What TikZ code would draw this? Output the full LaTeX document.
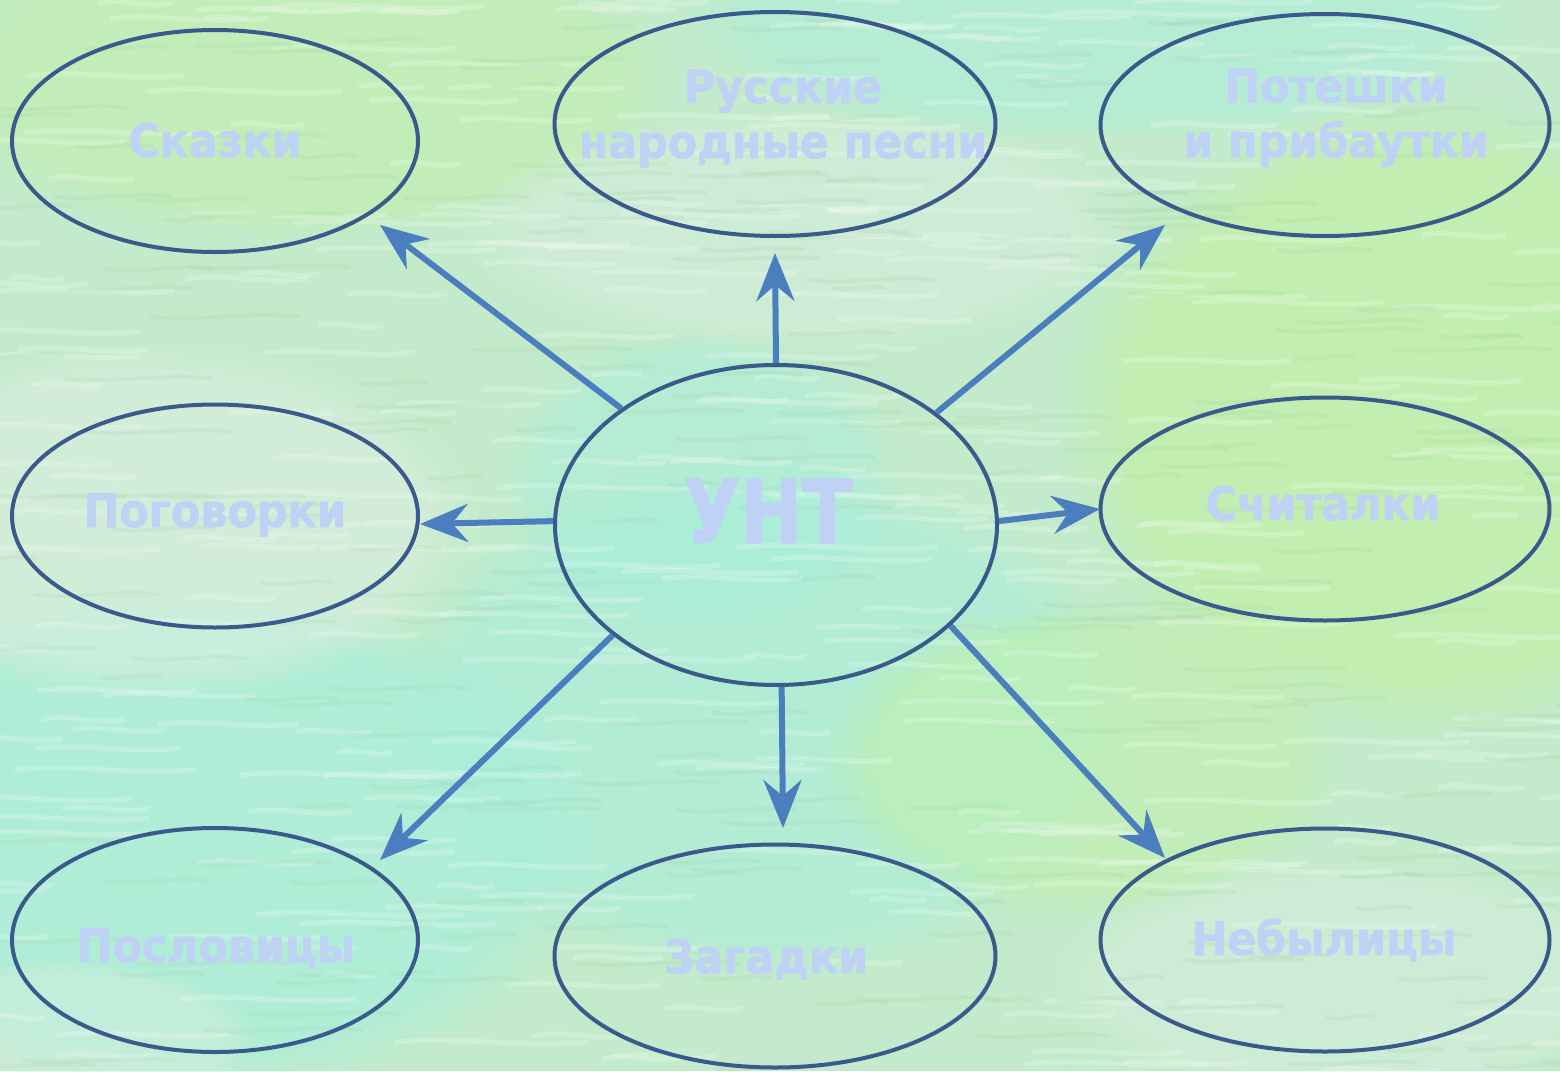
\documentclass[tikz,border=0pt]{standalone}
\usepackage{fontspec}
\newfontfamily\labelfont[FakeStretch=0.93,FakeBold=1.3]{DejaVu Sans Bold}
\newfontfamily\bigfont[FakeStretch=0.84,FakeBold=1.5]{DejaVu Sans Bold}
\usetikzlibrary{arrows.meta,shapes.geometric,fadings}
\definecolor{edgeblue}{HTML}{3B5A8C}
\definecolor{arrowblue}{HTML}{4A7EBE}
\definecolor{txtblue}{HTML}{BFD2F6}
\definecolor{bgbase}{HTML}{C3EBCB}
\definecolor{bgaqua}{HTML}{A8EEDC}
\definecolor{bglime}{HTML}{C2F0A6}
\definecolor{bgpale}{HTML}{E0EFE4}
\definecolor{bgstreak}{HTML}{9FCBA2}
\tikzset{
  oval/.style={ellipse, draw=edgeblue, line width=4pt, inner sep=0pt},
  lbl/.style={text=txtblue, font=\labelfont\fontsize{46}{55}\selectfont, align=center, inner sep=0pt},
  bigl/.style={text=txtblue, font=\bigfont\fontsize{88}{100}\selectfont, inner sep=0pt},
  link/.style={draw=arrowblue, line width=6pt, -{Stealth[length=48pt,width=38pt,inset=16pt]}},
  blob/.style={path fading=circle with fuzzy edge 20 percent}
}
\begin{document}
\begin{tikzpicture}[x=1pt,y=-1pt]
\useasboundingbox (0,0) rectangle (1560,1071);
% background texture
\fill[bgbase] (0,0) rectangle (1560,1071);
\begin{scope}
\clip (0,0) rectangle (1560,1071);
\fill[bgaqua, blob, opacity=0.7] (180,840) ellipse [x radius=420pt, y radius=260pt];
\fill[bgaqua, blob, opacity=0.6] (760,720) ellipse [x radius=380pt, y radius=260pt];
\fill[bgaqua, blob, opacity=0.5] (1100,20) ellipse [x radius=420pt, y radius=120pt];
\fill[bgaqua, blob, opacity=0.5] (700,480) ellipse [x radius=200pt, y radius=150pt];
\fill[bglime, blob, opacity=0.7] (1420,420) ellipse [x radius=360pt, y radius=320pt];
\fill[bglime, blob, opacity=0.5] (300,80) ellipse [x radius=380pt, y radius=160pt];
\fill[bglime, blob, opacity=0.5] (1080,760) ellipse [x radius=260pt, y radius=160pt];
\fill[bgpale, blob, opacity=0.5] (150,520) ellipse [x radius=330pt, y radius=180pt];
\fill[bgpale, blob, opacity=0.4] (800,230) ellipse [x radius=340pt, y radius=120pt];
\fill[bgpale, blob, opacity=0.4] (1350,980) ellipse [x radius=300pt, y radius=120pt];
\fill[bgpale, blob, opacity=0.4] (60,1040) ellipse [x radius=200pt, y radius=80pt];
\pgfmathsetseed{11}
\foreach \i in {1,...,320}{
  \pgfmathsetmacro\xx{rnd*1620-60}
  \pgfmathsetmacro\yy{rnd*1071}
  \pgfmathsetmacro\ll{50+rnd*160}
  \draw[white, opacity=0.2, line width=5pt, line cap=round]
    (\xx,\yy) .. controls (\xx+\ll/3,\yy-6) and (\xx+2*\ll/3,\yy+6) .. (\xx+\ll,\yy);
}
\foreach \i in {1,...,240}{
  \pgfmathsetmacro\xx{rnd*1620-60}
  \pgfmathsetmacro\yy{rnd*1071}
  \pgfmathsetmacro\ll{40+rnd*120}
  \draw[bgstreak, opacity=0.16, line width=4pt, line cap=round]
    (\xx,\yy) .. controls (\xx+\ll/3,\yy+5) and (\xx+2*\ll/3,\yy-5) .. (\xx+\ll,\yy);
}
\end{scope}
% ovals
\node[oval, minimum width=406pt, minimum height=222pt] (skazki)   at (215,141) {};
\node[oval, minimum width=441pt, minimum height=224pt] (pesni)    at (775,124) {};
\node[oval, minimum width=449pt, minimum height=222pt] (poteshki) at (1325,125) {};
\node[oval, minimum width=406pt, minimum height=223pt] (pogovorki) at (215,516) {};
\node[oval, minimum width=442pt, minimum height=320pt] (unt)      at (776,525) {};
\node[oval, minimum width=449pt, minimum height=223pt] (schitalki) at (1325,509) {};
\node[oval, minimum width=406pt, minimum height=224pt] (poslovicy) at (215,940) {};
\node[oval, minimum width=441pt, minimum height=223pt] (zagadki)  at (775,956) {};
\node[oval, minimum width=449pt, minimum height=223pt] (nebylicy) at (1325,940) {};
% labels
\node[lbl, anchor=base] (tskazki) at (215,157) {Сказки};
\node[lbl] (tpesni) at (783,118.5) {Русские\\народные песни};
\node[lbl] (tposh) at (1336,118) {Потешки\\и прибаутки};
\node[lbl, anchor=base] (tpogov) at (215,527) {Поговорки};
\node[bigl, anchor=base] (tunt) at (768,543) {УНТ};
\node[lbl, anchor=base] (tschit) at (1323,520) {Считалки};
\node[lbl, anchor=base] (tposl) at (216,962) {Пословицы};
\node[lbl, anchor=base] (tzag) at (766,973) {Загадки};
\node[lbl, anchor=base] (tneb) at (1324,955) {Небылицы};
% arrow tips
\coordinate (eskazki) at (380,225);
\coordinate (epesni) at (775,253);
\coordinate (eposh) at (1165,225);
\coordinate (epogov) at (420,524);
\coordinate (eschit) at (1100,509);
\coordinate (eposl) at (380,860);
\coordinate (ezag) at (783,828);
\coordinate (eneb) at (1165,858);
% connectors
\draw[link] (unt.143) -- (eskazki);
\draw[link] (unt.90) -- (epesni);
\draw[link] (unt.35) -- (eposh);
\draw[link] (unt.179) -- (epogov);
\draw[link] (unt.1.8) -- (eschit);
\draw[link] (unt.214.3) -- (eposl);
\draw[link] (unt.272.5) -- (ezag);
\draw[link] (unt.330.6) -- (eneb);
\end{tikzpicture}
\end{document}
